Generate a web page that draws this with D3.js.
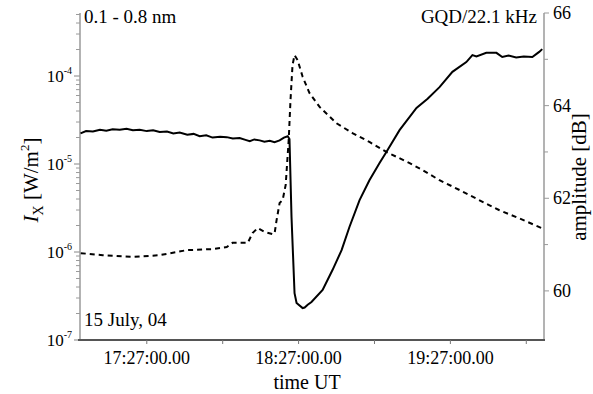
<!DOCTYPE html>
<html>
<head>
<meta charset="utf-8">
<script src="https://cdn.jsdelivr.net/npm/d3@7"></script>
<style>
  body { margin: 0; background: #fff; }
  text { font-family: "Liberation Serif", "Times New Roman", serif; fill: #000; }
</style>
</head>
<body>
<script>
// minutes after 17:00 UT
const xrayTime = [0.9, 9.6, 21.5, 32.1, 42.8, 53.1, 58.6, 60.9, 66.9, 68.8, 70.8, 73.6, 76.7, 77.5,
  78.3, 79.5, 80.7, 81.9, 83.1, 83.8, 84.6, 85.4, 86.6, 88.6, 91.3, 95.3, 102, 108.3, 115,
  121.7, 130.7, 135.8, 142.5, 150.4, 158.3, 166.2, 174, 183.1];
const xrayFlux = [0.97e-6, 0.92e-6, 0.88e-6, 0.92e-6, 1.05e-6, 1.08e-6, 1.14e-6, 1.27e-6, 1.27e-6,
  1.64e-6, 1.87e-6, 1.69e-6, 1.6e-6, 1.62e-6, 2.3e-6, 3.6e-6, 3.9e-6, 5.8e-6, 1.9e-5, 5.3e-5,
  1.33e-4, 1.73e-4, 1.52e-4, 9.8e-5, 6.4e-5, 4.45e-5, 2.9e-5, 2.25e-5, 1.78e-5, 1.37e-5,
  1.03e-5, 8.6e-6, 6.6e-6, 5.1e-6, 3.9e-6, 3.0e-6, 2.43e-6, 1.87e-6];

const vlfTime = [0.8, 3.0, 5.7, 8.5, 11.0, 13.5, 16.3, 19.0, 21.5, 24.2, 27.0, 29.5, 32.1, 35.0,
  37.5, 40.0, 43.0, 45.5, 47.9, 50.5, 53.0, 56.0, 58.6, 61.0, 63.7, 66.0, 67.7, 69.5, 71.6,
  73.5, 75.6, 77.5, 79.5, 81.2, 82.7, 83.4, 84.2, 85.4, 86.2, 88.6, 89.4, 90.6, 92.1, 96.5,
  100.4, 104, 107.1, 111.1, 115, 119, 121.7, 126.9, 133.6, 138, 142.7, 147.8, 153.3, 155.7,
  157.3, 161.2, 165.2, 167.5, 170, 173, 176, 179.4, 182.1, 183.3];
const vlfAmp = [63.40, 63.45, 63.44, 63.48, 63.46, 63.49, 63.48, 63.50, 63.47, 63.48, 63.45, 63.47,
  63.43, 63.44, 63.40, 63.42, 63.37, 63.39, 63.34, 63.36, 63.31, 63.33, 63.32, 63.29, 63.30,
  63.26, 63.23, 63.27, 63.25, 63.22, 63.24, 63.21, 63.25, 63.31, 63.34, 63.28, 61.6, 59.95,
  59.74, 59.63, 59.64, 59.70, 59.76, 60.02, 60.45, 60.88, 61.38, 61.96, 62.39, 62.76, 63.0,
  63.47, 63.95, 64.15, 64.4, 64.73, 64.94, 65.09, 65.06, 65.14, 65.14, 65.05, 65.08, 65.04,
  65.06, 65.05, 65.16, 65.22];

const timeTicks = [27, 57, 87, 117, 147, 177];
const timeLabels = ["17:27:00.00", "", "18:27:00.00", "", "19:27:00.00", ""];
const fluxTicks = [1e-7, 1e-6, 1e-5, 1e-4];
const fluxExp = ["-7", "-6", "-5", "-4"];
const ampTicks = [60, 61, 62, 63, 64, 65, 66];

const W = 593, H = 394;
const plot = {left: 80, right: 544, top: 13, bottom: 340};

const svg = d3.select('body').append('svg')
  .attr('width', W).attr('height', H);

const x = d3.scaleLinear().domain([0.6, 184]).range([plot.left, plot.right]);
const yL = d3.scaleLog().domain([1e-7, 5.2e-4]).range([plot.bottom, plot.top]);
const yR = d3.scaleLinear().domain([58.94, 66]).range([plot.bottom, plot.top]);

// left axis (log) with minor ticks
const minor = [];
for (let e = -7; e <= -4; e++) {
  for (let k = 2; k <= 9; k++) {
    const v = k * Math.pow(10, e);
    if (v <= 5.2e-4) minor.push(v);
  }
}
const gL = svg.append('g').attr('transform', `translate(${plot.left},0)`);
gL.append('line').attr('y1', plot.top).attr('y2', plot.bottom).attr('stroke', '#9a9a9a').attr('stroke-width', 1.5);
gL.selectAll('.mj').data(fluxTicks).join('line')
  .attr('x1', -6).attr('x2', 0).attr('y1', d => yL(d)).attr('y2', d => yL(d))
  .attr('stroke', '#9a9a9a').attr('stroke-width', 1.2);
gL.selectAll('.mn').data(minor).join('line')
  .attr('x1', -4).attr('x2', 0).attr('y1', d => yL(d)).attr('y2', d => yL(d))
  .attr('stroke', '#9a9a9a').attr('stroke-width', 1);
const lab = gL.selectAll('.lb').data(fluxTicks).join('text')
  .attr('x', -8).attr('y', d => yL(d) + 6)
  .attr('text-anchor', 'end').style('font-size', '17px');
lab.append('tspan').text('10');
lab.append('tspan').attr('dy', -8).style('font-size', '10px').text((d, i) => fluxExp[i]);

// right axis
const gR = svg.append('g').attr('transform', `translate(${plot.right},0)`);
gR.append('line').attr('y1', plot.top).attr('y2', plot.bottom).attr('stroke', '#9a9a9a').attr('stroke-width', 1.5);
gR.selectAll('.tk').data(ampTicks).join('line')
  .attr('x1', 0).attr('x2', d => d % 2 === 0 ? 5 : 4).attr('y1', d => yR(d)).attr('y2', d => yR(d))
  .attr('stroke', '#9a9a9a').attr('stroke-width', 1);
gR.selectAll('.lb').data(ampTicks.filter(d => d % 2 === 0)).join('text')
  .attr('x', 9).attr('y', d => yR(d) + 6).style('font-size', '18px').text(d => d);

// bottom axis
const gB = svg.append('g').attr('transform', `translate(0,${plot.bottom})`);
gB.append('line').attr('x1', plot.left - 2).attr('x2', plot.right + 1).attr('stroke', '#555').attr('stroke-width', 2);
gB.selectAll('.tk').data(timeTicks).join('line')
  .attr('x1', d => x(d)).attr('x2', d => x(d)).attr('y1', 0).attr('y2', 4)
  .attr('stroke', '#777').attr('stroke-width', 1);
gB.selectAll('.lb').data(timeTicks).join('text')
  .attr('x', d => x(d)).attr('y', 24).attr('text-anchor', 'middle')
  .style('font-size', '18px').text((d, i) => timeLabels[i]);

// curves
const xray = xrayTime.map((t, i) => [t, xrayFlux[i]]);
const vlf = vlfTime.map((t, i) => [t, vlfAmp[i]]);

svg.append('path').datum(xray)
  .attr('d', d3.line().x(d => x(d[0])).y(d => yL(d[1])))
  .attr('fill', 'none').attr('stroke', '#000').attr('stroke-width', 2)
  .attr('stroke-dasharray', '5,4');

svg.append('path').datum(vlf)
  .attr('d', d3.line().x(d => x(d[0])).y(d => yR(d[1])))
  .attr('fill', 'none').attr('stroke', '#000').attr('stroke-width', 2);

// labels
svg.append('text').attr('x', 84).attr('y', 23).style('font-size', '19px').text('0.1 - 0.8 nm');
svg.append('text').attr('x', 537).attr('y', 23).attr('text-anchor', 'end').style('font-size', '19px').text('GQD/22.1 kHz');
svg.append('text').attr('x', 84).attr('y', 326).style('font-size', '19px').text('15 July, 04');
svg.append('text').attr('x', 307).attr('y', 389).attr('text-anchor', 'middle').style('font-size', '20px').text('time UT');

const yt = svg.append('text').attr('transform', 'translate(38,180) rotate(-90)')
  .attr('text-anchor', 'middle').style('font-size', '21px');
yt.append('tspan').style('font-style', 'italic').text('I');
yt.append('tspan').attr('dy', 5).style('font-size', '14px').text('X');
yt.append('tspan').attr('dy', -5).text(' [W/m');
yt.append('tspan').attr('dy', -9).style('font-size', '13px').text('2');
yt.append('tspan').attr('dy', 9).text(']');

svg.append('text').attr('transform', 'translate(586,177) rotate(-90)')
  .attr('text-anchor', 'middle').style('font-size', '21px').text('amplitude [dB]');
</script>
</body>
</html>
